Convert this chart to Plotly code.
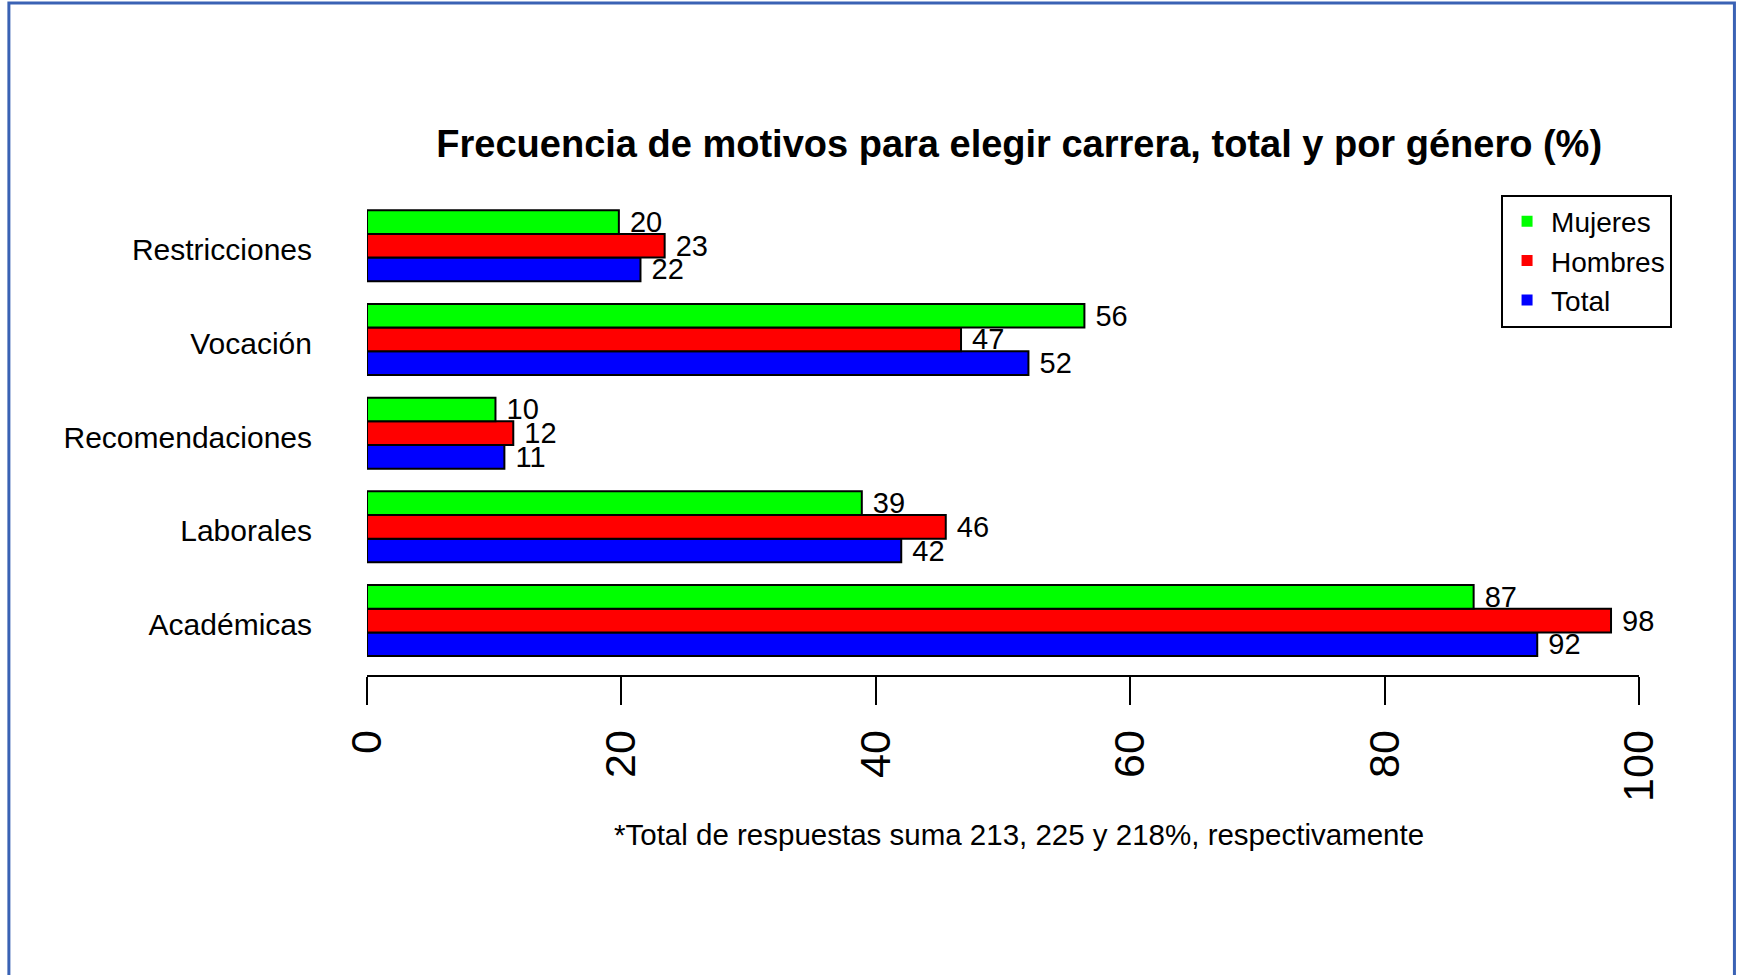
import plotly.graph_objects as go

categories = ["Académicas", "Laborales", "Recomendaciones", "Vocación", "Restricciones"]
mujeres = [87.0, 38.9, 10.1, 56.4, 19.8]
hombres = [97.8, 45.5, 11.5, 46.7, 23.4]
total = [92.0, 42.0, 10.8, 52.0, 21.5]
mujeres_lbl = ["87", "39", "10", "56", "20"]
hombres_lbl = ["98", "46", "12", "47", "23"]
total_lbl = ["92", "42", "11", "52", "22"]
x_ticks = [0, 20, 40, 60, 80, 100]

title_text = "<b>Frecuencia de motivos para elegir carrera, total y por género (%)</b>"
note_text = "*Total de respuestas suma 213, 225 y 218%, respectivamente"

W, H = 1743, 975
L, R, T, B = 367.0, 1638.6, 190.0, 674.7
PW, PH = R - L, B - T


def px(x):
    return (x - L) / PW


def py(y):
    return (B - y) / PH


FONT = "Liberation Sans, Arial, sans-serif"
NB = "\u00a0"

fig = go.Figure()
series = [("Total", total, total_lbl, "#0000FF"),
          ("Hombres", hombres, hombres_lbl, "#FF0000"),
          ("Mujeres", mujeres, mujeres_lbl, "#00FF00")]
for name, vals, lbls, col in series:
    fig.add_trace(go.Bar(
        y=categories, x=vals, orientation="h", name=name,
        marker=dict(color=col, line=dict(color="black", width=2)),
        text=[NB + l for l in lbls], textposition="outside",
        textfont=dict(size=29, color="black", family=FONT),
        constraintext="none", cliponaxis=False, showlegend=False,
    ))

for name, col in [("Mujeres", "#00FF00"), ("Hombres", "#FF0000"), ("Total", "#0000FF")]:
    fig.add_trace(go.Scatter(
        x=[None], y=[None], mode="markers", name=name,
        marker=dict(symbol="square", size=11, color=col),
    ))

fig.update_layout(
    width=W, height=H,
    margin=dict(l=L, r=W - R, t=T, b=H - B, autoexpand=False),
    paper_bgcolor="white", plot_bgcolor="white",
    barmode="group", bargap=0.242, bargroupgap=0,
    font=dict(family=FONT, color="black"),
    title=dict(text=title_text, font=dict(size=38, family=FONT, color="black"),
               x=px(1019), xref="paper", xanchor="center",
               y=1 - 143.4 / H, yref="container", yanchor="middle"),
    xaxis=dict(range=[0, 100], tickvals=x_ticks, showgrid=False, zeroline=False,
               showline=True, linecolor="black", linewidth=2,
               ticks="outside", ticklen=28, tickwidth=2, tickcolor="black",
               tickangle=-90, tickfont=dict(size=43, family=FONT, color="black"),
               ticklabelstandoff=8),
    yaxis=dict(range=[-0.581, 4.595], showgrid=False, zeroline=False, showline=False,
               ticks="", tickfont=dict(size=30, family=FONT, color="black"),
               ticklabelstandoff=54, ticklabelshift=4),
    legend=dict(x=px(1500.7), y=py(194.5), xanchor="left", yanchor="top",
                bordercolor="black", borderwidth=2, bgcolor="white",
                font=dict(size=28, family=FONT, color="black"),
                traceorder="normal", itemwidth=38, tracegroupgap=0),
    showlegend=True,
)

fig.add_annotation(text=note_text, xref="paper", yref="paper",
                   x=px(1019), y=py(833.7), xanchor="center", yanchor="middle",
                   showarrow=False, font=dict(size=29.5, family=FONT, color="black"))

fig.add_shape(type="rect", xref="paper", yref="paper",
              x0=px(9), x1=px(1734), y0=py(990), y1=py(3),
              line=dict(color="#3A62B4", width=3), fillcolor="rgba(0,0,0,0)",
              layer="above")

fig.write_html("out.html", config={"displayModeBar": False},
               post_script="document.body.style.margin='0';document.body.style.overflow='hidden';")
